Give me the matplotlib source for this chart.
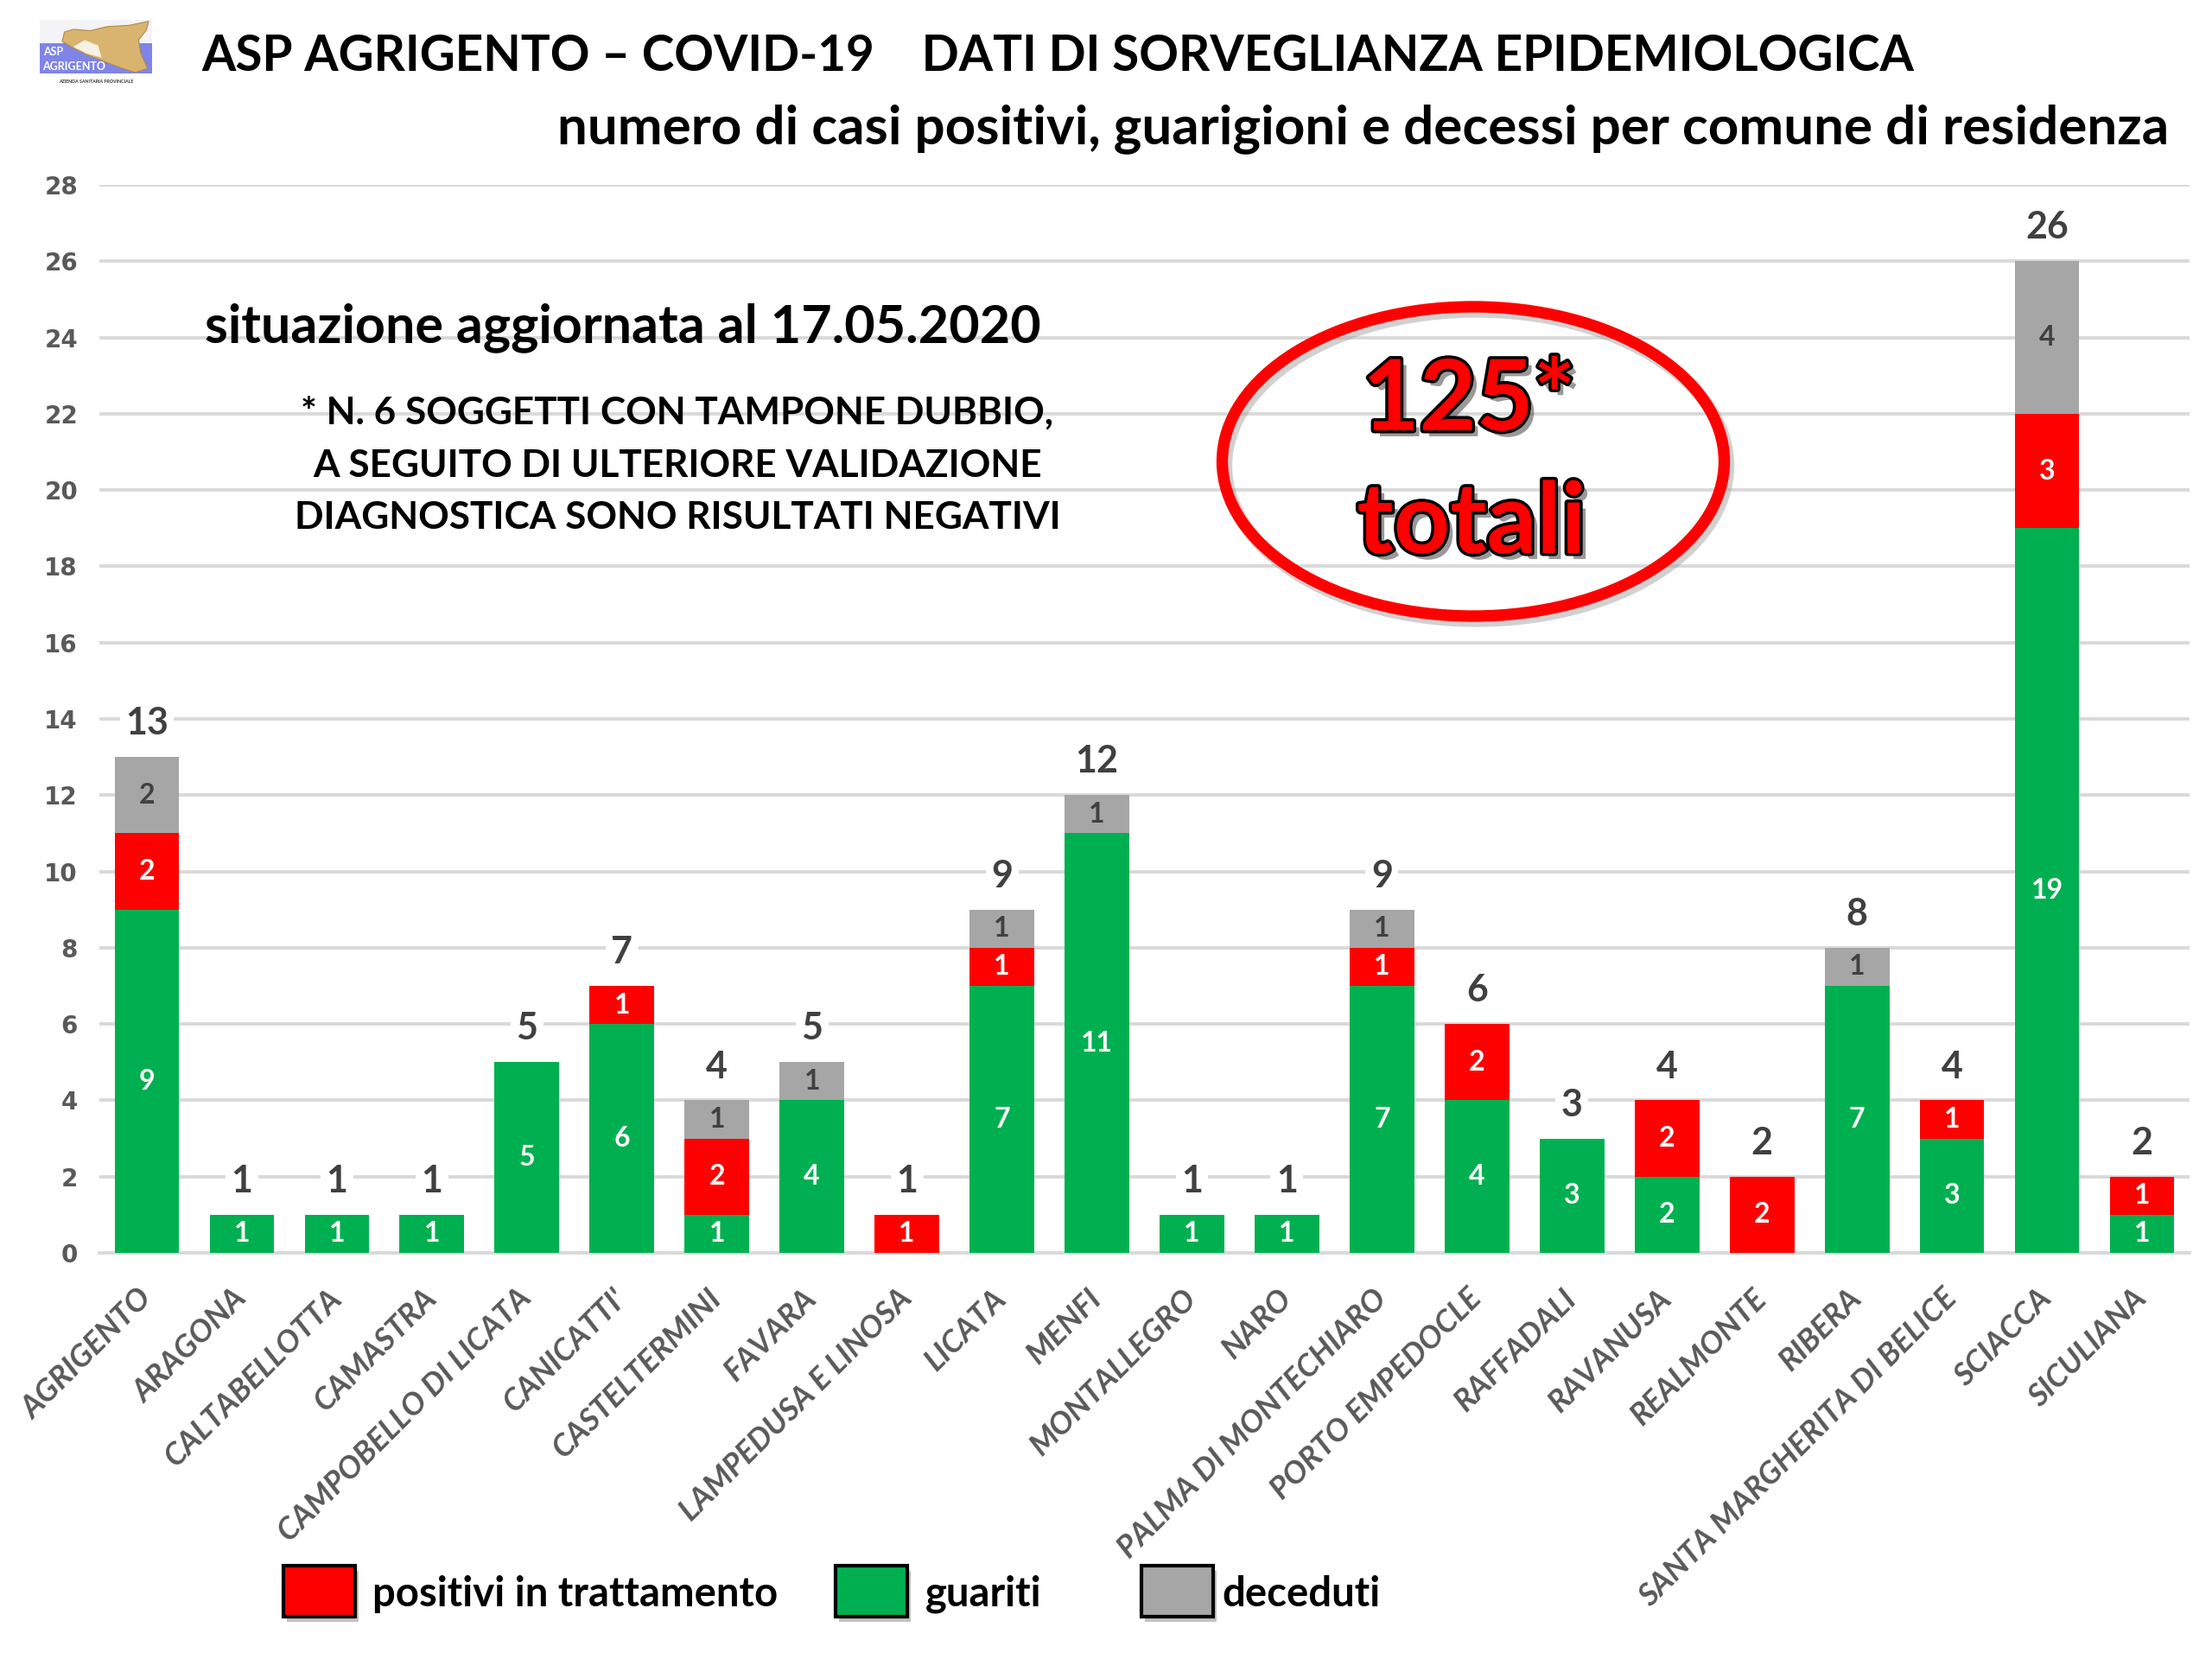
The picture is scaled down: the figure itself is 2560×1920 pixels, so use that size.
import matplotlib
matplotlib.use('Agg')
import matplotlib.pyplot as plt
import numpy as np
from matplotlib.patches import Ellipse, Rectangle, Polygon
import matplotlib.patheffects as pe

# ---------------- data ----------------
comuni = ["AGRIGENTO", "ARAGONA", "CALTABELLOTTA", "CAMASTRA", "CAMPOBELLO DI LICATA",
          "CANICATTI'", "CASTELTERMINI", "FAVARA", "LAMPEDUSA E LINOSA", "LICATA",
          "MENFI", "MONTALLEGRO", "NARO", "PALMA DI MONTECHIARO", "PORTO EMPEDOCLE",
          "RAFFADALI", "RAVANUSA", "REALMONTE", "RIBERA", "SANTA MARGHERITA DI BELICE",
          "SCIACCA", "SICULIANA"]
guariti  = [9, 1, 1, 1, 5, 6, 1, 4, 0, 7, 11, 1, 1, 7, 4, 3, 2, 0, 7, 3, 19, 1]
positivi = [2, 0, 0, 0, 0, 1, 2, 0, 1, 1, 0, 0, 0, 1, 2, 0, 2, 2, 0, 1, 3, 1]
deceduti = [2, 0, 0, 0, 0, 0, 1, 1, 0, 1, 1, 0, 0, 1, 0, 0, 0, 0, 1, 0, 4, 0]
yticks = list(range(0, 29, 2))
legend_labels = ["positivi in trattamento", "guariti", "deceduti"]

C_GREEN, C_RED, C_GREY = "#00B050", "#FF0000", "#A6A6A6"
FONT = "Lato"

W, H = 2560, 1920
fig = plt.figure(figsize=(12.8, 9.6), dpi=200)
fig.patch.set_facecolor("white")


def fx(px):
    return px / W


def fy(py):
    return 1 - py / H


# ---------------- main axes ----------------
ax = fig.add_axes([fx(115), fy(1450), fx(2534) - fx(115), fy(214) - fy(1450)])
x = np.arange(len(comuni))
g = np.array(guariti)
p = np.array(positivi)
d = np.array(deceduti)
tot = g + p + d
bw = 0.68
ax.bar(x, g, bw, color=C_GREEN, zorder=3)
ax.bar(x, p, bw, bottom=g, color=C_RED, zorder=3)
ax.bar(x, d, bw, bottom=g + p, color=C_GREY, zorder=3)

ax.set_xlim(-0.5, len(comuni) - 0.5)
ax.set_ylim(0, 28)
ax.set_yticks(yticks)
ax.yaxis.grid(True, color="#D9D9D9", lw=1.4, zorder=0)
ax.set_axisbelow(True)
for s in ["top", "right", "left"]:
    ax.spines[s].set_visible(False)
ax.spines["bottom"].set_color("#D9D9D9")
ax.spines["bottom"].set_linewidth(1.4)
ax.tick_params(length=0)
ax.tick_params(axis="y", pad=9)
for lab in ax.get_yticklabels():
    lab.set_fontfamily("DejaVu Sans")
    lab.set_fontweight("bold")
    lab.set_fontsize(10)
    lab.set_color("#595959")

ax.set_xticks(x)
ax.set_xticklabels(comuni, rotation=45, ha="right", va="center",
                   rotation_mode="anchor", fontfamily=FONT, fontstyle="italic",
                   fontweight="bold", fontsize=13, color="#595959")
ax.tick_params(axis="x", pad=17)

# segment labels
for i in range(len(comuni)):
    base = 0
    for val, col in ((g[i], "white"), (p[i], "white"), (d[i], "#404040")):
        if val > 0:
            ax.text(x[i], base + val / 2, str(val), ha="center", va="center",
                    fontsize=11.5, fontweight="bold", color=col,
                    fontfamily=FONT, zorder=4)
        base += val
    ax.annotate(str(tot[i]), (x[i], tot[i]), xytext=(0, 14),
                textcoords="offset points", ha="center", va="center",
                fontsize=15.5, fontweight="bold", color="#404040", fontfamily=FONT,
                zorder=4,
                bbox=dict(boxstyle="square,pad=0.15", fc="white", ec="none"))

# ---------------- titles & notes ----------------
fig.text(fx(233), fy(65), "ASP AGRIGENTO – COVID-19    DATI DI SORVEGLIANZA EPIDEMIOLOGICA",
         ha="left", va="center", fontsize=20.4, fontweight="bold", fontfamily=FONT,
         color="black")
fig.text(fx(2510), fy(149), "numero di casi positivi, guarigioni e decessi per comune di residenza",
         ha="right", va="center", fontsize=22.3, fontweight="bold", fontfamily=FONT,
         color="black")
fig.text(fx(237), fy(379), "situazione aggiornata al 17.05.2020",
         ha="left", va="center", fontsize=22, fontweight="bold", fontfamily=FONT,
         color="black")
for txt, yy in (("* N. 6 SOGGETTI CON TAMPONE DUBBIO,", 478),
                ("A SEGUITO DI ULTERIORE VALIDAZIONE", 539),
                ("DIAGNOSTICA SONO RISULTATI NEGATIVI", 599)):
    fig.text(fx(784), fy(yy), txt, ha="center", va="center", fontsize=15.9,
             fontweight="bold", fontfamily=FONT, color="black")

# ellipse with total (shadow drawn as offset grey ellipse)
ew, eh = fx(581) - fx(0), 358 / H
shadow = Ellipse((fx(1709), fy(539)), ew, eh, transform=fig.transFigure,
                 fill=False, ec="#999999", lw=5.5, alpha=0.45, zorder=4)
fig.add_artist(shadow)
ell = Ellipse((fx(1705), fy(534)), ew, eh, transform=fig.transFigure,
              fill=False, ec=C_RED, lw=4.8, zorder=5)
fig.add_artist(ell)
txt_fx = [pe.SimplePatchShadow(offset=(2.5, -2.5), shadow_rgbFace="#555555", alpha=0.6),
          pe.Stroke(linewidth=2.5, foreground="black"), pe.Normal()]
fig.text(fx(1700), fy(465), "125*", ha="center", va="center", fontsize=41,
         fontweight="bold", fontfamily=FONT, color=C_RED, path_effects=txt_fx, zorder=6)
fig.text(fx(1703), fy(607), "totali", ha="center", va="center", fontsize=41,
         fontweight="bold", fontfamily=FONT, color=C_RED, path_effects=txt_fx, zorder=6)

# ---------------- legend ----------------
leg_boxes = [(328, C_RED), (967, C_GREEN), (1321, C_GREY)]
leg_text_x = [431, 1071, 1414]
for (bx, col), tx, lab in zip(leg_boxes, leg_text_x, legend_labels):
    sh = Rectangle((fx(bx + 4), fy(1877)), fx(83), 59 / H, transform=fig.transFigure,
                   fc="#888888", ec="none", alpha=0.5)
    fig.add_artist(sh)
    r = Rectangle((fx(bx), fy(1871)), fx(83), 59 / H, transform=fig.transFigure,
                  fc=col, ec="black", lw=1.5)
    fig.add_artist(r)
    fig.text(fx(tx), fy(1845), lab, ha="left", va="center", fontsize=17,
             fontweight="bold", fontfamily=FONT, color="black")

# ---------------- logo ----------------
lax = fig.add_axes([fx(46), fy(101), fx(130), 78 / H])
lax.set_xlim(0, 1)
lax.set_ylim(0, 1)
lax.axis("off")
lax.add_patch(Rectangle((0, 0.2), 1, 0.8, fc="#F4F4F6", ec="none"))
lax.add_patch(Rectangle((0, 0.2), 1, 0.45, fc="#7F84E8", ec="none"))
lax.add_patch(Polygon([(0.22, 0.82), (0.3, 0.86), (0.45, 0.84), (0.6, 0.9), (0.8, 0.92),
                       (0.97, 0.98), (0.95, 0.85), (0.88, 0.7), (0.9, 0.5), (0.96, 0.28),
                       (0.85, 0.22), (0.7, 0.3), (0.55, 0.4), (0.42, 0.48), (0.3, 0.58),
                       (0.2, 0.68)], closed=True, fc="#D9B46E", ec="#B08850", lw=0.4))
lax.add_patch(Polygon([(0.3, 0.6), (0.42, 0.5), (0.55, 0.44), (0.52, 0.62), (0.4, 0.7)],
                      closed=True, fc="#F6F2E6", ec="none"))
lax.text(0.03, 0.53, "ASP", color="white", fontsize=4.5, fontweight="bold", va="center", fontfamily=FONT)
lax.text(0.02, 0.31, "AGRIGENTO", color="white", fontsize=4.5, fontweight="bold", va="center", fontfamily=FONT)
lax.text(0.5, 0.08, "AZIENDA SANITARIA PROVINCIALE", color="#333333", fontsize=1.9,
         fontweight="bold", ha="center", va="center", fontfamily=FONT)

fig.savefig("out.png", dpi=200, facecolor="white")
